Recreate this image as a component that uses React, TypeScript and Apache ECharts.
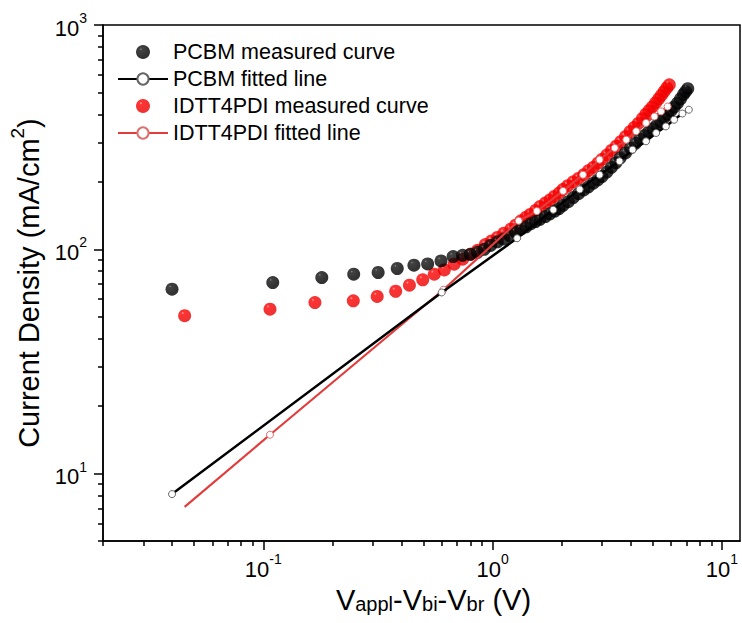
import React, { useEffect, useRef } from "react";
import * as echarts from "echarts";

// ---- data (x: V, y: mA/cm^2) ----
const pcbmMeasuredX = [0.040, 0.110, 0.180, 0.248, 0.317, 0.384, 0.454, 0.521, 0.596, 0.673, 0.74, 0.80, 0.86, 0.92, 0.98, 1.05, 1.12, 1.19, 1.26, 1.33, 1.40, 1.47, 1.54, 1.61, 1.70, 1.78, 1.87, 1.95, 2.03, 2.14, 2.25, 2.37, 2.5, 2.62, 2.75, 2.88, 3.0, 3.15, 3.3, 3.45, 3.6, 3.8, 4.0, 4.2, 4.4, 4.6, 4.8, 5.0, 5.2, 5.4, 5.6, 5.8, 6.0, 6.2, 6.4, 6.6, 6.8, 6.95, 7.1];
const pcbmMeasuredY = [66.4, 71.1, 74.8, 77.4, 78.8, 82.1, 84.9, 86, 88.7, 92.8, 94, 95, 97, 100, 104, 108, 111, 115, 119, 123, 126, 130, 133, 136, 140, 144, 148, 152, 157, 163, 170, 177, 184, 190, 197, 204, 211, 221, 232, 243, 255, 269, 283, 297, 310, 322, 334, 345, 357, 371, 386, 400, 415, 431, 448, 468, 490, 505, 520];

const pcbmFitX = [0.040, 0.60, 1.28, 1.84, 2.40, 2.93, 3.58, 4.08, 4.67, 5.17, 5.7, 6.19, 6.73, 7.18];
const pcbmFitY = [8.1, 64.2, 112, 150, 185, 215, 247, 278, 303, 330, 353, 378, 403, 419];

const idttMeasuredX = [0.0454, 0.107, 0.168, 0.247, 0.314, 0.378, 0.434, 0.496, 0.557, 0.616, 0.680, 0.74, 0.80, 0.86, 0.93, 0.99, 1.05, 1.12, 1.20, 1.26, 1.33, 1.40, 1.46, 1.54, 1.61, 1.70, 1.78, 1.86, 1.95, 2.03, 2.13, 2.25, 2.37, 2.5, 2.62, 2.75, 2.88, 3.0, 3.15, 3.3, 3.46, 3.62, 3.8, 3.98, 4.15, 4.32, 4.5, 4.66, 4.82, 4.98, 5.14, 5.3, 5.45, 5.6, 5.75, 5.9];
const idttMeasuredY = [50.6, 54.1, 57.9, 58.9, 61.6, 65.0, 69.2, 73.1, 77.4, 80.9, 85.8, 90.3, 95, 99, 105, 109, 113, 118, 123, 128, 134, 139, 143, 149, 155, 161, 166, 172, 178, 185, 192, 200, 207, 215, 224, 232, 242, 252, 263, 276, 288, 302, 318, 335, 350, 364, 382, 400, 416, 432, 450, 468, 486, 505, 524, 541];

const idttFitX = [0.0454, 0.107, 0.61, 1.30, 1.56, 2.03, 2.48, 2.93, 3.41, 3.83, 4.23, 4.67, 5.08, 5.43, 5.80];
const idttFitY = [7.1, 14.9, 66, 134, 148, 182, 215, 251, 283, 308, 336, 366, 391, 412, 433];

const seriesNames = ["PCBM measured curve", "PCBM fitted line", "IDTT4PDI measured curve", "IDTT4PDI fitted line"];

const xMajorTicks = [0.1, 1, 10];
const xMinorTicks = [0.02, 0.03, 0.04, 0.05, 0.06, 0.07, 0.08, 0.09, 0.2, 0.3, 0.4, 0.5, 0.6, 0.7, 0.8, 0.9, 2, 3, 4, 5, 6, 7, 8, 9];
const yMajorTicks = [10, 100, 1000];
const yMinorTicks = [5, 6, 7, 8, 9, 20, 30, 40, 50, 60, 70, 80, 90, 200, 300, 400, 500, 600, 700, 800, 900];

const X_MIN = 0.02, X_MAX = 12;
const Y_MIN = 5, Y_MAX = 1000;

const FONT = "'Liberation Sans', Arial, sans-serif";

const zip = (xs: number[], ys: number[]) => xs.map((x, i) => [x, ys[i]]);

export default function App() {
  const ref = useRef<HTMLDivElement>(null);
  useEffect(() => {
    if (!ref.current) return;
    const chart = echarts.init(ref.current, undefined, { renderer: "svg" });

    const blackBall = new echarts.graphic.RadialGradient(0.35, 0.3, 0.55, [
      { offset: 0, color: "#808080" },
      { offset: 0.15, color: "#141414" },
      { offset: 1, color: "#000000" },
    ]);
    const redBall = new echarts.graphic.RadialGradient(0.35, 0.3, 0.55, [
      { offset: 0, color: "#ff9a9a" },
      { offset: 0.2, color: "#ff0000" },
      { offset: 1, color: "#ee0000" },
    ]);

    const supLabel = (v: number) => {
      const e = Math.round(Math.log10(v));
      return `{b|10}{s|${e}}`;
    };
    const labelRich = {
      b: { fontSize: 22, lineHeight: 28, verticalAlign: "bottom", fontFamily: FONT, color: "#000" },
      s: { fontSize: 14, lineHeight: 14, verticalAlign: "top", fontFamily: FONT, color: "#000" },
    };

    const idttFitData = zip(idttFitX, idttFitY).map((p, i) =>
      i === 0 ? { value: p, symbol: "none" } : { value: p }
    );

    chart.setOption({
      animation: false,
      backgroundColor: "#fff",
      grid: {
        left: 100,
        right: 2,
        top: 25,
        bottom: 81,
        show: true,
        borderColor: "#000",
        borderWidth: 1.5,
        backgroundColor: "transparent",
      },
      legend: {
        orient: "vertical",
        left: 112,
        top: 36,
        itemWidth: 50,
        itemHeight: 14,
        itemGap: 5,
        selectedMode: false,
        data: seriesNames,
        textStyle: { fontSize: 21.5, lineHeight: 22, fontFamily: FONT, color: "#000" },
      },
      xAxis: [
        {
          type: "log",
          min: X_MIN,
          max: X_MAX,
          position: "bottom",
          name: "{m|V}{sub|appl}{m|-V}{sub|bi}{m|-V}{sub|br}{m| (V)}",
          nameLocation: "middle",
          nameGap: 28,
          nameTextStyle: {
            rich: {
              m: { fontSize: 29, lineHeight: 29, verticalAlign: "top", padding: [0, 0, 4, 0], fontFamily: FONT, color: "#000" },
              sub: { fontSize: 20, lineHeight: 20, verticalAlign: "bottom", fontFamily: FONT, color: "#000" },
            },
            padding: [0, 0, 0, 24],
          },
          axisLine: { show: true, lineStyle: { color: "#000", width: 1.5 } },
          axisTick: { show: true, inside: false, length: 9, customValues: xMajorTicks, lineStyle: { color: "#000", width: 1.5 } },
          minorTick: { show: false },
          splitLine: { show: false },
          axisLabel: {
            customValues: xMajorTicks,
            margin: 11,
            formatter: supLabel,
            rich: labelRich,
          },
        },
        {
          type: "log",
          min: X_MIN,
          max: X_MAX,
          position: "bottom",
          axisLine: { show: false },
          axisTick: { show: true, inside: false, length: 5, customValues: xMinorTicks, lineStyle: { color: "#000", width: 1.5 } },
          axisLabel: { show: false },
          splitLine: { show: false },
        },
      ],
      yAxis: [
        {
          type: "log",
          min: Y_MIN,
          max: Y_MAX,
          position: "left",
          name: "{m|Current Density (mA/cm}{sup|2}{m|)}",
          nameLocation: "middle",
          nameGap: 60,
          nameTextStyle: {
            rich: {
              m: { fontSize: 29, lineHeight: 35, verticalAlign: "bottom", fontFamily: FONT, color: "#000" },
              sup: { fontSize: 19, lineHeight: 19, verticalAlign: "top", fontFamily: FONT, color: "#000" },
            },
          },
          axisLine: { show: true, lineStyle: { color: "#000", width: 1.5 } },
          axisTick: { show: true, inside: false, length: 9, customValues: yMajorTicks, lineStyle: { color: "#000", width: 1.5 } },
          splitLine: { show: false },
          axisLabel: {
            customValues: yMajorTicks,
            margin: 16,
            formatter: supLabel,
            rich: labelRich,
          },
        },
        {
          type: "log",
          min: Y_MIN,
          max: Y_MAX,
          position: "left",
          axisLine: { show: false },
          axisTick: { show: true, inside: false, length: 5, customValues: yMinorTicks, lineStyle: { color: "#000", width: 1.5 } },
          axisLabel: { show: false },
          splitLine: { show: false },
        },
      ],
      series: [
        {
          name: seriesNames[0],
          type: "scatter",
          z: 3,
          symbol: "circle",
          symbolSize: 13,
          itemStyle: { color: blackBall },
          data: zip(pcbmMeasuredX, pcbmMeasuredY),
        },
        {
          name: seriesNames[1],
          type: "line",
          z: 5,
          symbol: "circle",
          symbolSize: 7,
          showAllSymbol: true,
          lineStyle: { color: "#000", width: 2.5 },
          itemStyle: { color: "#ffffff", borderColor: "#666", borderWidth: 1 },
          data: zip(pcbmFitX, pcbmFitY),
        },
        {
          name: seriesNames[2],
          type: "scatter",
          z: 2,
          symbol: "circle",
          symbolSize: 13,
          itemStyle: { color: redBall },
          data: zip(idttMeasuredX, idttMeasuredY),
        },
        {
          name: seriesNames[3],
          type: "line",
          z: 4,
          symbol: "circle",
          symbolSize: 7,
          showAllSymbol: true,
          lineStyle: { color: "#e23c3c", width: 2.2 },
          itemStyle: { color: "#ffffff", borderColor: "#e07070", borderWidth: 1 },
          data: idttFitData,
        },
      ],
    });

    return () => chart.dispose();
  }, []);

  return (
    <div
      ref={ref}
      style={{ position: "fixed", left: 0, top: 0, width: 742, height: 623, background: "#fff" }}
    />
  );
}
